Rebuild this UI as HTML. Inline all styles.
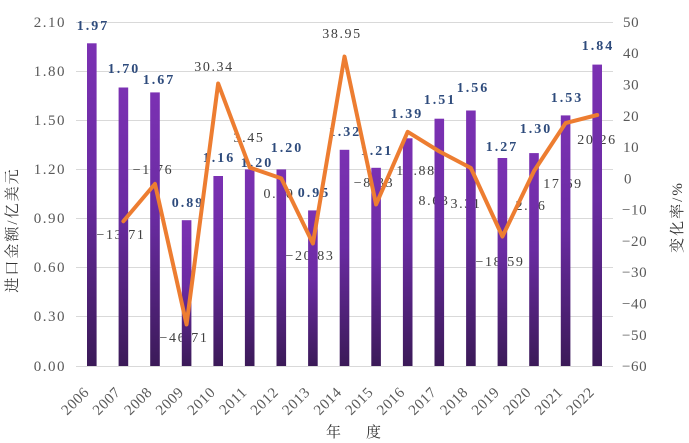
<!DOCTYPE html>
<html>
<head>
<meta charset="utf-8">
<style>
  html, body { margin:0; padding:0; background:#fff; }
  svg { display:block; }
  text { font-family: "Liberation Serif", "Noto Serif CJK SC", serif; }
  .tk { font-size:15px; fill:#595959; letter-spacing:1.5px; }
  .tr { font-size:15px; fill:#595959; letter-spacing:0.6px; }
  .bl { font-size:14px; font-weight:bold; fill:#2E4B7C; letter-spacing:2px; }
  .ll { font-size:14px; fill:#404040; letter-spacing:1.6px; }
  .xl { font-size:15px; fill:#595959; letter-spacing:0.6px; }
  .tt { font-size:15px; fill:#333; letter-spacing:2px; }
</style>
</head>
<body>
<svg width="689" height="443" viewBox="0 0 689 443" xmlns="http://www.w3.org/2000/svg">
  <defs>
    <linearGradient id="bg" x1="0" y1="0" x2="0" y2="1">
      <stop offset="0" stop-color="#7B31B3"/>
      <stop offset="0.45" stop-color="#6A2BA2"/>
      <stop offset="1" stop-color="#3B1A58"/>
    </linearGradient>
  </defs>
  <rect width="689" height="443" fill="#fff"/>

  <!-- gridlines -->
  <g stroke="#D9D9D9" stroke-width="1">
    <line x1="76" y1="22.5" x2="613" y2="22.5"/>
    <line x1="76" y1="71.5" x2="613" y2="71.5"/>
    <line x1="76" y1="120.5" x2="613" y2="120.5"/>
    <line x1="76" y1="169.5" x2="613" y2="169.5"/>
    <line x1="76" y1="218.5" x2="613" y2="218.5"/>
    <line x1="76" y1="267.5" x2="613" y2="267.5"/>
    <line x1="76" y1="316.5" x2="613" y2="316.5"/>
    <line x1="76" y1="366.5" x2="613" y2="366.5"/>
  </g>

  <!-- left ticks -->
  <g class="tk" text-anchor="end">
    <text x="66" y="27">2.10</text>
    <text x="66" y="76">1.80</text>
    <text x="66" y="125">1.50</text>
    <text x="66" y="174">1.20</text>
    <text x="66" y="223">0.90</text>
    <text x="66" y="272">0.60</text>
    <text x="66" y="321">0.30</text>
    <text x="66" y="371">0.00</text>
  </g>

  <!-- right ticks -->
  <g class="tr" text-anchor="start">
    <text x="623" y="27">50</text>
    <text x="623" y="58">40</text>
    <text x="623" y="89.5">30</text>
    <text x="623" y="121">20</text>
    <text x="623" y="152">10</text>
    <text x="624" y="183.5">0</text>
    <text x="622" y="214.5">−10</text>
    <text x="622" y="246">−20</text>
    <text x="622" y="277">−30</text>
    <text x="622" y="308.5">−40</text>
    <text x="622" y="340">−50</text>
    <text x="622" y="371">−60</text>
  </g>

  <!-- line data labels (behind bars) -->
  <g class="ll" text-anchor="middle">
    <text x="121" y="239">−13.71</text>
    <text x="153" y="174">−1.76</text>
    <text x="184" y="342">−46.71</text>
    <text x="214" y="71">30.34</text>
    <text x="249" y="142">3.45</text>
    <text x="279" y="198">0.00</text>
    <text x="310" y="260">−20.83</text>
    <text x="342" y="38">38.95</text>
    <text x="374" y="187">−8.33</text>
    <text x="416" y="175">14.88</text>
    <text x="434" y="205">8.63</text>
    <text x="466" y="208">3.31</text>
    <text x="500" y="266">−18.59</text>
    <text x="531" y="210">2.36</text>
    <text x="563" y="188">17.69</text>
    <text x="597" y="144">20.26</text>
  </g>

  <!-- bars -->
  <g fill="url(#bg)">
    <rect x="87.0" y="43.3" width="9.6" height="322.7"/>
    <rect x="118.6" y="87.5" width="9.6" height="278.5"/>
    <rect x="150.2" y="92.4" width="9.6" height="273.6"/>
    <rect x="181.8" y="220.2" width="9.6" height="145.8"/>
    <rect x="213.4" y="176.0" width="9.6" height="190.0"/>
    <rect x="244.9" y="169.4" width="9.6" height="196.6"/>
    <rect x="276.5" y="169.4" width="9.6" height="196.6"/>
    <rect x="308.1" y="210.4" width="9.6" height="155.6"/>
    <rect x="339.7" y="149.8" width="9.6" height="216.2"/>
    <rect x="371.3" y="167.8" width="9.6" height="198.2"/>
    <rect x="402.9" y="138.3" width="9.6" height="227.7"/>
    <rect x="434.5" y="118.7" width="9.6" height="247.3"/>
    <rect x="466.1" y="110.5" width="9.6" height="255.5"/>
    <rect x="497.6" y="158.0" width="9.6" height="208.0"/>
    <rect x="529.2" y="153.1" width="9.6" height="212.9"/>
    <rect x="560.8" y="115.4" width="9.6" height="250.6"/>
    <rect x="592.4" y="64.6" width="9.6" height="301.4"/>
  </g>

  <!-- bar labels -->
  <g class="bl" text-anchor="middle">
    <text x="93" y="30">1.97</text>
    <text x="124" y="73">1.70</text>
    <text x="159" y="84">1.67</text>
    <text x="188" y="207">0.89</text>
    <text x="219" y="162">1.16</text>
    <text x="257" y="167">1.20</text>
    <text x="287" y="152">1.20</text>
    <text x="314" y="197">0.95</text>
    <text x="345" y="136">1.32</text>
    <text x="377" y="155">1.21</text>
    <text x="407" y="118">1.39</text>
    <text x="440" y="104">1.51</text>
    <text x="473" y="92">1.56</text>
    <text x="502" y="151">1.27</text>
    <text x="536" y="133">1.30</text>
    <text x="567" y="102">1.53</text>
    <text x="598" y="50">1.84</text>
  </g>

  <!-- line -->
  <polyline fill="none" stroke="#ED7D31" stroke-width="4" stroke-linejoin="round" stroke-linecap="round"
    points="123.38,221.24 154.97,183.86 186.56,324.44 218.15,83.48 249.74,167.57 281.32,178.36 312.91,243.50 344.50,56.55 376.09,204.41 407.68,131.83 439.26,151.37 470.85,168.01 502.44,236.50 534.03,170.98 565.62,123.04 597.21,115.00"/>

  <!-- x labels -->
  <g class="xl" text-anchor="end">
    <text transform="translate(90,393) rotate(-45)">2006</text>
    <text transform="translate(121.4,393) rotate(-45)">2007</text>
    <text transform="translate(153,393) rotate(-45)">2008</text>
    <text transform="translate(184.6,393) rotate(-45)">2009</text>
    <text transform="translate(216.2,393) rotate(-45)">2010</text>
    <text transform="translate(247.7,393) rotate(-45)">2011</text>
    <text transform="translate(279.3,393) rotate(-45)">2012</text>
    <text transform="translate(310.9,393) rotate(-45)">2013</text>
    <text transform="translate(342.5,393) rotate(-45)">2014</text>
    <text transform="translate(374.1,393) rotate(-45)">2015</text>
    <text transform="translate(405.7,393) rotate(-45)">2016</text>
    <text transform="translate(437.3,393) rotate(-45)">2017</text>
    <text transform="translate(468.9,393) rotate(-45)">2018</text>
    <text transform="translate(500.4,393) rotate(-45)">2019</text>
    <text transform="translate(532,393) rotate(-45)">2020</text>
    <text transform="translate(563.6,393) rotate(-45)">2021</text>
    <text transform="translate(595.2,393) rotate(-45)">2022</text>
  </g>

  <!-- axis titles -->
  <text class="tt" x="334.5" y="437" text-anchor="middle">年</text>
  <text class="tt" x="374.5" y="437" text-anchor="middle">度</text>
  <text class="tt" text-anchor="middle" transform="translate(17,230) rotate(-90)">进口金额/亿美元</text>
  <text class="tt" text-anchor="middle" transform="translate(682,217) rotate(-90)">变化率/%</text>
</svg>
</body>
</html>
